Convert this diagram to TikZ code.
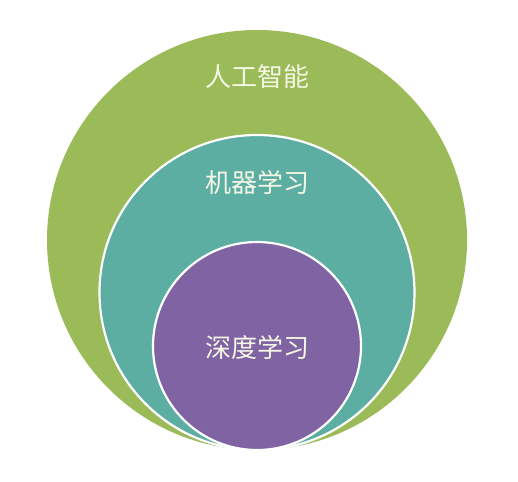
\documentclass[tikz,border=0pt]{standalone}
\usepackage{fontspec}
\newfontfamily\cjk{Noto Sans CJK SC}
\usepackage{xcolor}
\definecolor{aigreen}{RGB}{155,187,89}
\definecolor{mlteal}{RGB}{92,173,162}
\definecolor{dlpurple}{RGB}{128,99,163}
\definecolor{labcream}{RGB}{244,247,228}
\begin{document}
\begin{tikzpicture}[x=1pt,y=-1pt,
    ring/.style={circle,draw=white,line width=2.2pt,inner sep=0pt},
    lab/.style={text=labcream,font=\cjk\fontsize{26}{31}\selectfont}]
        \useasboundingbox(0,0) rectangle (518,481);
        \node[ring,draw=none,fill=aigreen,minimum size=420pt](ai)at(257,240){};
        \node[ring,fill=mlteal,minimum size=315pt](ml)at(257,292.5){};
        \node[ring,fill=dlpurple,minimum size=208pt](dl)at(257,346){};
        \node[lab](ailab)at(257,77){人工智能};
        \node[lab](mllab)at(257,183){机器学习};
        \node[lab](dllab)at(257,347){深度学习};
      \end{tikzpicture}
\end{document}
